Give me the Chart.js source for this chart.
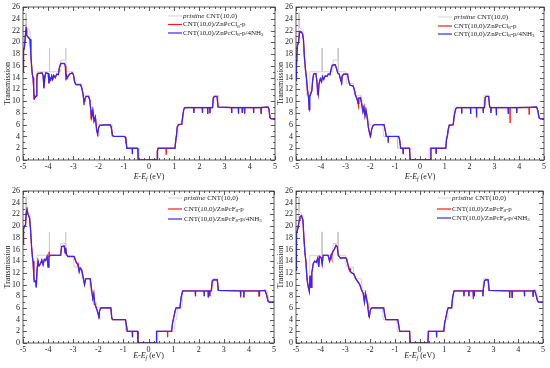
<!DOCTYPE html>
<html>
<head>
<meta charset="utf-8">
<script src="https://cdn.jsdelivr.net/npm/chart.js@4.4.1/dist/chart.umd.min.js"></script>
<style>
  body { margin: 0; background: #fff; }
  #wrap { position: relative; width: 550px; height: 368px; overflow: hidden; }
  .panel { position: absolute; }
</style>
</head>
<body>
<div id="wrap">
  <div class="panel" style="left:0px;top:0px;width:280px;height:184px"><canvas id="c1"></canvas></div>
  <div class="panel" style="left:275px;top:0px;width:275px;height:184px"><canvas id="c2"></canvas></div>
  <div class="panel" style="left:0px;top:184px;width:280px;height:184px"><canvas id="c3"></canvas></div>
  <div class="panel" style="left:275px;top:184px;width:275px;height:184px"><canvas id="c4"></canvas></div>
</div>
<script>
// tick labels
const xTicks = [-5,-4,-3,-2,-1,0,1,2,3,4,5];
const yTicks = [0,2,4,6,8,10,12,14,16,18,20,22,24,26];

// pristine CNT(10,0), same in every panel  [E, T]
const pristine = [[-5,17],[-4.97,20],[-4.9,20],[-4.895,25],[-4.875,25],[-4.87,22.5],[-4.72,22],[-4.68,18],[-4.64,15.5],
  [-4.6,14],[-4.57,11],[-4.46,11],[-4.44,15],[-3.96,15],[-3.955,19],[-3.945,19],[-3.94,15],[-3.52,15],[-3.5,17],
  [-3.31,17],[-3.305,19],[-3.295,19],[-3.29,15],[-3.0,15],[-2.96,13],[-2.68,13],[-2.64,11],[-2.36,11],[-2.32,9],
  [-2.2,9],[-2.16,7],[-2.08,7],[-2.05,6],[-1.5,6],[-1.47,4],[-0.92,4],[-0.9,2],[-0.41,2],[-0.4,0],[0.36,0],[0.37,2],
  [1.02,2],[1.05,4],[1.12,4],[1.15,6],[1.33,6],[1.38,9],[2.56,9],[2.59,11],[2.76,11],[2.79,9],[4.72,9],[4.82,7],[5,7]];

// panel 1 : CNT(10,0)/ZnPcCl8-p (+4NH3)
const base1 = [[-5,15],[-4.98,18.5],[-4.94,19.3],[-4.91,21],[-4.88,22.3],[-4.85,21.2],[-4.78,20.8],[-4.72,20.5],
  [-4.69,18],[-4.66,16],[-4.63,14.5],[-4.6,14],[-4.58,12.5],[-4.56,10.5],[-4.52,10.6],[-4.47,10.9],[-4.45,13.5],
  [-4.42,14.7],[-4.24,14.8],[-4.2,14.3],[-4.17,12.2],[-4.14,13.8],[-4.1,14.8],[-4.0,14.7],[-3.97,13],[-3.94,14],
  [-3.9,13.6],[-3.86,14.3],[-3.82,13.7],[-3.78,14.4],[-3.72,14],[-3.66,14.6],[-3.6,14.5],[-3.55,15.8],[-3.5,16.4],
  [-3.36,16.4],[-3.32,16],[-3.29,14.6],[-3.25,13.9],[-3.2,14.3],[-3.15,14.6],[-3.05,14.8],[-3.0,14.5],[-2.95,13.3],
  [-2.9,12.8],[-2.72,12.8],[-2.67,12.3],[-2.62,11.3],[-2.58,9.8],[-2.54,10.4],[-2.5,10.8],[-2.4,10.8],[-2.35,10.2],
  [-2.31,8.5],[-2.27,7.2],[-2.23,8.4],[-2.18,6.6],[-2.13,7.3],[-2.08,5.2],[-2.04,4.4],[-2.0,5.5],[-1.95,5.9],
  [-1.55,6],[-1.5,5.6],[-1.45,4.2],[-1.4,4],[-0.97,4],[-0.92,3.6],[-0.88,2],[-0.46,2],[-0.44,1.5],[-0.43,0],
  [0.32,0],[0.33,1.5],[0.36,2],[1.03,2],[1.06,3.2],[1.09,4.2],[1.12,5.6],[1.17,6],[1.3,6.1],[1.34,7.5],[1.38,8.6],
  [1.43,8.9],[2.52,8.9],[2.55,10.5],[2.59,10.8],[2.7,10.8],[2.74,9],[4.72,9],[4.76,8.7],[4.8,7.2],[4.85,7],[5,7]];
const dips1 = [[-0.66,2,1],[1.78,8.9,8],[2.12,8.9,8],[2.33,8.9,7.8],[2.42,8.9,8],[3.28,8.9,8],[3.55,8.9,7.9],
  [3.7,8.9,8],[3.8,8.9,8],[4.15,8.9,8],[4.45,8.9,8]];
const redOnly1 = [[-4.87,21.5,22.6],[-4.55,11,10.2],[-4.45,14.5,13.5],[-3.3,14.6,13.5],[-2.58,10,9.3],
  [-2.3,8.5,7],[-2.03,4.6,4],[-0.92,3.8,2.8],[0.68,2,1],[2.42,8.9,7.9],[3.78,8.9,7.8],[4.45,8.9,7.8]];

// panel 2 : CNT(10,0)/ZnPcCl8-p (+4NH3)
const base2 = [[-5,13.5],[-4.98,16],[-4.95,19.3],[-4.9,20],[-4.86,21.6],[-4.8,21.8],[-4.74,21.5],[-4.7,20.5],
  [-4.66,17.5],[-4.62,15.5],[-4.58,14],[-4.54,12],[-4.5,10.8],[-4.47,8.6],[-4.44,10.8],[-4.4,11.3],[-4.36,11.8],
  [-4.33,13.5],[-4.29,14.6],[-4.2,14.7],[-4.16,13.5],[-4.13,11.8],[-4.1,11.2],[-4.07,13],[-4.02,13.8],[-3.97,13.3],
  [-3.93,14.2],[-3.88,13.7],[-3.82,14.3],[-3.75,14.2],[-3.7,14.6],[-3.63,14.5],[-3.58,15.5],[-3.54,16.1],
  [-3.42,16.2],[-3.37,15.6],[-3.32,14.8],[-3.26,14.6],[-3.2,13.6],[-3.16,13],[-3.13,14.3],[-3.08,14.6],
  [-2.92,14.6],[-2.88,13.5],[-2.82,12.7],[-2.7,12.6],[-2.65,12],[-2.6,11],[-2.55,10.5],[-2.5,9.6],[-2.46,10.5],
  [-2.4,10.6],[-2.35,9.5],[-2.3,8.2],[-2.26,9],[-2.22,7.5],[-2.18,8.5],[-2.13,7.3],[-2.08,5.5],[-2.03,4.5],
  [-1.99,4],[-1.95,5.2],[-1.9,5.8],[-1.84,6],[-1.45,6],[-1.4,5],[-1.36,4],[-0.86,4],[-0.82,3.4],[-0.78,2],
  [-0.42,2],[-0.4,0],[0.42,0],[0.44,2],[1.04,2],[1.07,3.5],[1.1,4],[1.14,5.2],[1.18,5.9],[1.34,6],[1.38,7.5],
  [1.44,8.7],[1.5,8.9],[2.6,8.9],[2.63,10.6],[2.67,10.8],[2.77,10.8],[2.81,9],[4.7,9],[4.75,8.4],[4.8,7.2],
  [4.85,7],[5,7]];
const dips2 = [[-1.28,4,3.1],[-0.68,2,1.1],[0.65,2,1.2],[1.68,8.9,7.9],[2.04,8.9,7.8],[2.28,8.9,7.5],
  [2.55,8.9,8],[2.86,8.9,8],[3.08,8.9,7.6],[3.56,8.9,7.8],[3.9,8.9,8]];
const redOnly2 = [[-4.85,21.6,22],[-4.47,10,8.5],[-4.13,12,11],[-3.16,14,12.8],[-2.5,10,9.3],[-2.01,4.3,3.8],
  [-1.28,4,2.9],[0.65,2,1],[2.28,8.9,7.2],[3.63,8.9,6.4],[4.4,8.9,7.8]];

// panel 3 : CNT(10,0)/ZnPcF8-p (+4NH3)
const base3 = [[-5,17],[-4.98,19.5],[-4.94,20],[-4.9,20.2],[-4.87,22.3],[-4.84,22.8],[-4.8,22],[-4.74,21.4],
  [-4.7,19.5],[-4.66,16.5],[-4.62,14.5],[-4.6,14],[-4.57,11.5],[-4.55,10.5],[-4.5,10.6],[-4.47,9.5],[-4.44,12.5],
  [-4.4,14],[-4.36,13.2],[-4.3,13.6],[-4.25,14.2],[-4.2,13.4],[-4.15,14.3],[-4.1,14.1],[-4.04,14.8],[-4.0,13],
  [-3.97,14.8],[-3.9,15],[-3.5,15],[-3.46,16.5],[-3.36,16.6],[-3.32,15.4],[-3.3,16.3],[-3.27,15.2],[-3.22,14.8],
  [-2.96,14.8],[-2.9,14],[-2.82,13.4],[-2.76,12.2],[-2.72,12.8],[-2.66,12.5],[-2.6,11.2],[-2.55,10],[-2.5,11],
  [-2.32,11],[-2.27,9.2],[-2.22,7.6],[-2.18,8.4],[-2.14,6.8],[-2.08,6],[-2.02,5.2],[-1.98,4.5],[-1.95,5.5],
  [-1.9,6],[-1.5,6],[-1.46,4.2],[-1.42,4],[-0.92,4],[-0.88,3],[-0.84,2],[-0.44,2],[-0.42,0],[0.3,0],[0.32,2],
  [0.92,2],[0.96,3.5],[1.0,4.2],[1.06,5.5],[1.1,6],[1.25,6],[1.3,7.8],[1.36,8.9],[2.5,8.9],[2.54,10.6],
  [2.58,10.8],[2.74,10.8],[2.78,9],[4.64,9],[4.7,8.3],[4.76,7.2],[4.8,7],[5,7]];
const dips3 = [[-0.64,2,1],[1.87,8.9,8],[2.22,8.9,8],[2.38,8.9,7.8],[2.44,8.9,8],[3.67,8.9,8],[3.8,8.9,7.8],
  [4.42,8.9,8]];
const redOnly3 = [[-4.84,22.8,23.2],[-3.96,14.8,15.6],[-2.8,13.5,13],[-2.16,7,6.5],[-1.96,5,4.8],[0.76,2,1],
  [3.67,8.9,7.8],[4.4,8.9,7.9]];

// panel 4 : CNT(10,0)/ZnPcF8-p (+4NH3)
const base4 = [[-5,12.5],[-4.99,17],[-4.97,18.8],[-4.92,19.6],[-4.87,21],[-4.84,21.6],[-4.78,21.8],[-4.72,21],
  [-4.68,18],[-4.64,15.5],[-4.6,14],[-4.57,12],[-4.54,10.5],[-4.5,9.5],[-4.46,8.8],[-4.43,11.5],[-4.41,10.8],
  [-4.39,9.5],[-4.36,12],[-4.3,13.6],[-4.24,14],[-4.18,13.8],[-4.12,14.5],[-4.08,13],[-4.05,14.8],[-3.98,14.6],
  [-3.94,13.5],[-3.9,15],[-3.7,15],[-3.64,14],[-3.58,15],[-3.5,15.7],[-3.45,16],[-3.38,16.7],[-3.33,16.5],
  [-3.29,15],[-3.2,14.5],[-3.05,14.6],[-2.96,14.5],[-2.92,13.8],[-2.84,12.5],[-2.75,12],[-2.66,11.8],[-2.58,11],
  [-2.5,10.5],[-2.42,10],[-2.34,9],[-2.28,8.5],[-2.23,7],[-2.19,8.5],[-2.15,7.8],[-2.1,6.5],[-2.06,5],[-2.03,4.5],
  [-2.0,5.5],[-1.96,5.9],[-1.92,6],[-1.45,6],[-1.4,4.6],[-1.36,4],[-0.88,4],[-0.84,3],[-0.8,2],[-0.4,2],
  [-0.38,0],[0.34,0],[0.36,2],[0.98,2],[1.02,3.5],[1.06,4.2],[1.12,5.5],[1.16,6],[1.3,6],[1.34,7.8],[1.4,8.9],
  [2.6,8.9],[2.63,10.6],[2.67,10.8],[2.78,10.8],[2.82,9],[4.66,9],[4.72,8.2],[4.78,7.2],[4.82,7],[5,7]];
const dips4 = [[0.69,2,1],[1.8,8.9,8],[2.0,8.9,8],[2.18,8.9,7.8],[2.22,8.9,8],[2.57,8.9,8],[3.65,8.9,7.8],
  [3.75,8.9,7.8],[4.25,8.9,8],[4.6,8.9,8]];
const redOnly4 = [[-4.84,21.6,21.2],[-3.55,15,14.5],[-2.8,12.2,12.8],[-2.05,5,4.4],[2.18,8.9,7.5],[3.65,8.9,7.7]];

// legend texts
const lgPristine = [{t:'pristine',i:1},{t:' CNT(10,0)'}];
const lgCl = [{t:'CNT(10,0)/ZnPcCl'},{t:'8',s:1},{t:'-p'}];
const lgClN = [{t:'CNT(10,0)/ZnPcCl'},{t:'8',s:1},{t:'-p/4NH'},{t:'3',s:1}];
const lgF = [{t:'CNT(10,0)/ZnPcF'},{t:'8',s:1},{t:'-p'}];
const lgFN = [{t:'CNT(10,0)/ZnPcF'},{t:'8',s:1},{t:'-p/4NH'},{t:'3',s:1}];
const xTitle = [{t:'E',i:1},{t:'-'},{t:'E',i:1},{t:'f',i:1,s:1},{t:' (eV)'}];

const FONT = '"Liberation Serif", "Times New Roman", serif';
const GRAY = '#c8c8c8', RED = '#ff1a1a', BLUE = '#2a2aff';

function spikes(list) {
  const out = [];
  list.forEach(([x, b, t]) => { out.push([x - 0.006, b], [x, t], [x + 0.006, b]); });
  return out;
}
function toXY(...parts) {
  return [].concat(...parts).sort((a, b) => a[0] - b[0]).map(p => ({x: p[0], y: p[1]}));
}

function rich(ctx, parts, x, y, size) {
  parts.forEach(p => {
    const fs = p.s ? size * 0.7 : size;
    ctx.font = (p.i ? 'italic ' : '') + fs + 'px ' + FONT;
    ctx.fillText(p.t, x, y + (p.s ? size * 0.3 : 0));
    x += ctx.measureText(p.t).width;
  });
  return x;
}
function richWidth(ctx, parts, size) {
  let w = 0;
  parts.forEach(p => {
    const fs = p.s ? size * 0.7 : size;
    ctx.font = (p.i ? 'italic ' : '') + fs + 'px ' + FONT;
    w += ctx.measureText(p.t).width;
  });
  return w;
}

const decor = {
  id: 'decor',
  afterDatasetsDraw(chart, args, o) {
    const ctx = chart.ctx, a = chart.chartArea;
    const xs = chart.scales.x, ys = chart.scales.y;
    ctx.save();
    ctx.strokeStyle = '#333';
    ctx.lineWidth = 0.8;
    ctx.strokeRect(a.left, a.top, a.right - a.left, a.bottom - a.top);
    ctx.beginPath();
    for (let v = -5; v <= 5.001; v += 0.2) {
      const px = Math.round(xs.getPixelForValue(v)) + 0.5;
      const major = Math.abs(v - Math.round(v)) < 0.01;
      const L = major ? 4 : 2;
      ctx.moveTo(px, a.bottom); ctx.lineTo(px, a.bottom - L);
      ctx.moveTo(px, a.top); ctx.lineTo(px, a.top + L);
    }
    for (let v = 0; v <= 26; v += 1) {
      const py = Math.round(ys.getPixelForValue(v)) + 0.5;
      const L = v % 2 === 0 ? 4 : 2;
      ctx.moveTo(a.left, py); ctx.lineTo(a.left + L, py);
      ctx.moveTo(a.right, py); ctx.lineTo(a.right - L, py);
    }
    ctx.stroke();

    // legend
    ctx.fillStyle = '#222';
    ctx.textBaseline = 'middle';
    ctx.textAlign = 'left';
    const colors = [GRAY, RED, BLUE];
    o.rows.forEach((dy, i) => {
      const y = a.top + dy;
      ctx.strokeStyle = colors[i];
      ctx.lineWidth = i === 0 ? 0.8 : 1.2;
      ctx.beginPath();
      ctx.moveTo(a.right - o.lx, y); ctx.lineTo(a.right - o.lx + 14, y);
      ctx.stroke();
      rich(ctx, o.labels[i], a.right - o.tx, y, 7);
    });

    // x title
    const w = richWidth(ctx, xTitle, 8);
    rich(ctx, xTitle, (a.left + a.right) / 2 - w / 2, a.bottom + o.titleDy, 8);
    ctx.restore();
  }
};

function makePanel(id, pristineData, base, dips, redOnly, lay) {
  const blue = toXY(base, spikes(dips));
  const red = toXY(base, spikes(dips), spikes(redOnly));
  const gray = toXY(pristineData);
  new Chart(id, {
    type: 'line',
    data: {
      datasets: [
        {data: blue, borderColor: BLUE, borderWidth: 1.1},
        {data: red, borderColor: RED, borderWidth: 1.3},
        {data: gray, borderColor: GRAY, borderWidth: 0.8}
      ]
    },
    options: {
      responsive: true,
      maintainAspectRatio: false,
      animation: false,
      events: [],
      elements: {point: {radius: 0}, line: {tension: 0, fill: false}},
      layout: {padding: {left: 0, right: lay.padR, top: lay.padT, bottom: 0}},
      plugins: {
        legend: {display: false},
        tooltip: {enabled: false},
        decor: {rows: lay.rows, labels: lay.labels, lx: lay.lx, tx: lay.tx, titleDy: lay.titleDy}
      },
      scales: {
        x: {
          type: 'linear', min: -5, max: 5,
          afterBuildTicks: ax => { ax.ticks = xTicks.map(v => ({value: v})); },
          afterFit: ax => { ax.height = lay.axisH; },
          grid: {display: false, drawTicks: false},
          border: {display: false},
          ticks: {color: '#222', font: {family: FONT, size: 8, lineHeight: 1}, padding: 3,
                  maxRotation: 0, autoSkip: false}
        },
        y: {
          min: 0, max: 26,
          afterBuildTicks: ax => { ax.ticks = yTicks.map(v => ({value: v})); },
          afterFit: ax => { ax.width = lay.axisW; },
          grid: {display: false, drawTicks: false},
          border: {display: false},
          ticks: {color: '#222', font: {family: FONT, size: 8, lineHeight: 1}, padding: 3},
          title: {display: true, text: 'Transmission', color: '#222',
                  font: {family: FONT, size: 8}, padding: {top: lay.titlePad, bottom: 0}}
        }
      }
    },
    plugins: [decor]
  });
}

makePanel('c1', pristine, base1, dips1, redOnly1,
  {padR: 5, padT: 6, axisW: 23, axisH: 24, titlePad: 3, rows: [9, 17.5, 26],
   labels: [lgPristine, lgCl, lgClN], lx: 107, tx: 92, titleDy: 17});
makePanel('c2', pristine, base2, dips2, redOnly2,
  {padR: 6, padT: 6, axisW: 21, axisH: 24, titlePad: 1, rows: [10, 19, 27],
   labels: [lgPristine, lgCl, lgClN], lx: 106, tx: 90, titleDy: 17});
makePanel('c3', pristine, base3, dips3, redOnly3,
  {padR: 6, padT: 4, axisW: 23, axisH: 25, titlePad: 3, rows: [7, 18, 28],
   labels: [lgPristine, lgF, lgFN], lx: 106, tx: 90, titleDy: 13});
makePanel('c4', pristine, base4, dips4, redOnly4,
  {padR: 7, padT: 4, axisW: 21, axisH: 25, titlePad: 1, rows: [7, 18, 27],
   labels: [lgPristine, lgF, lgFN], lx: 106, tx: 91, titleDy: 13});
</script>
</body>
</html>
